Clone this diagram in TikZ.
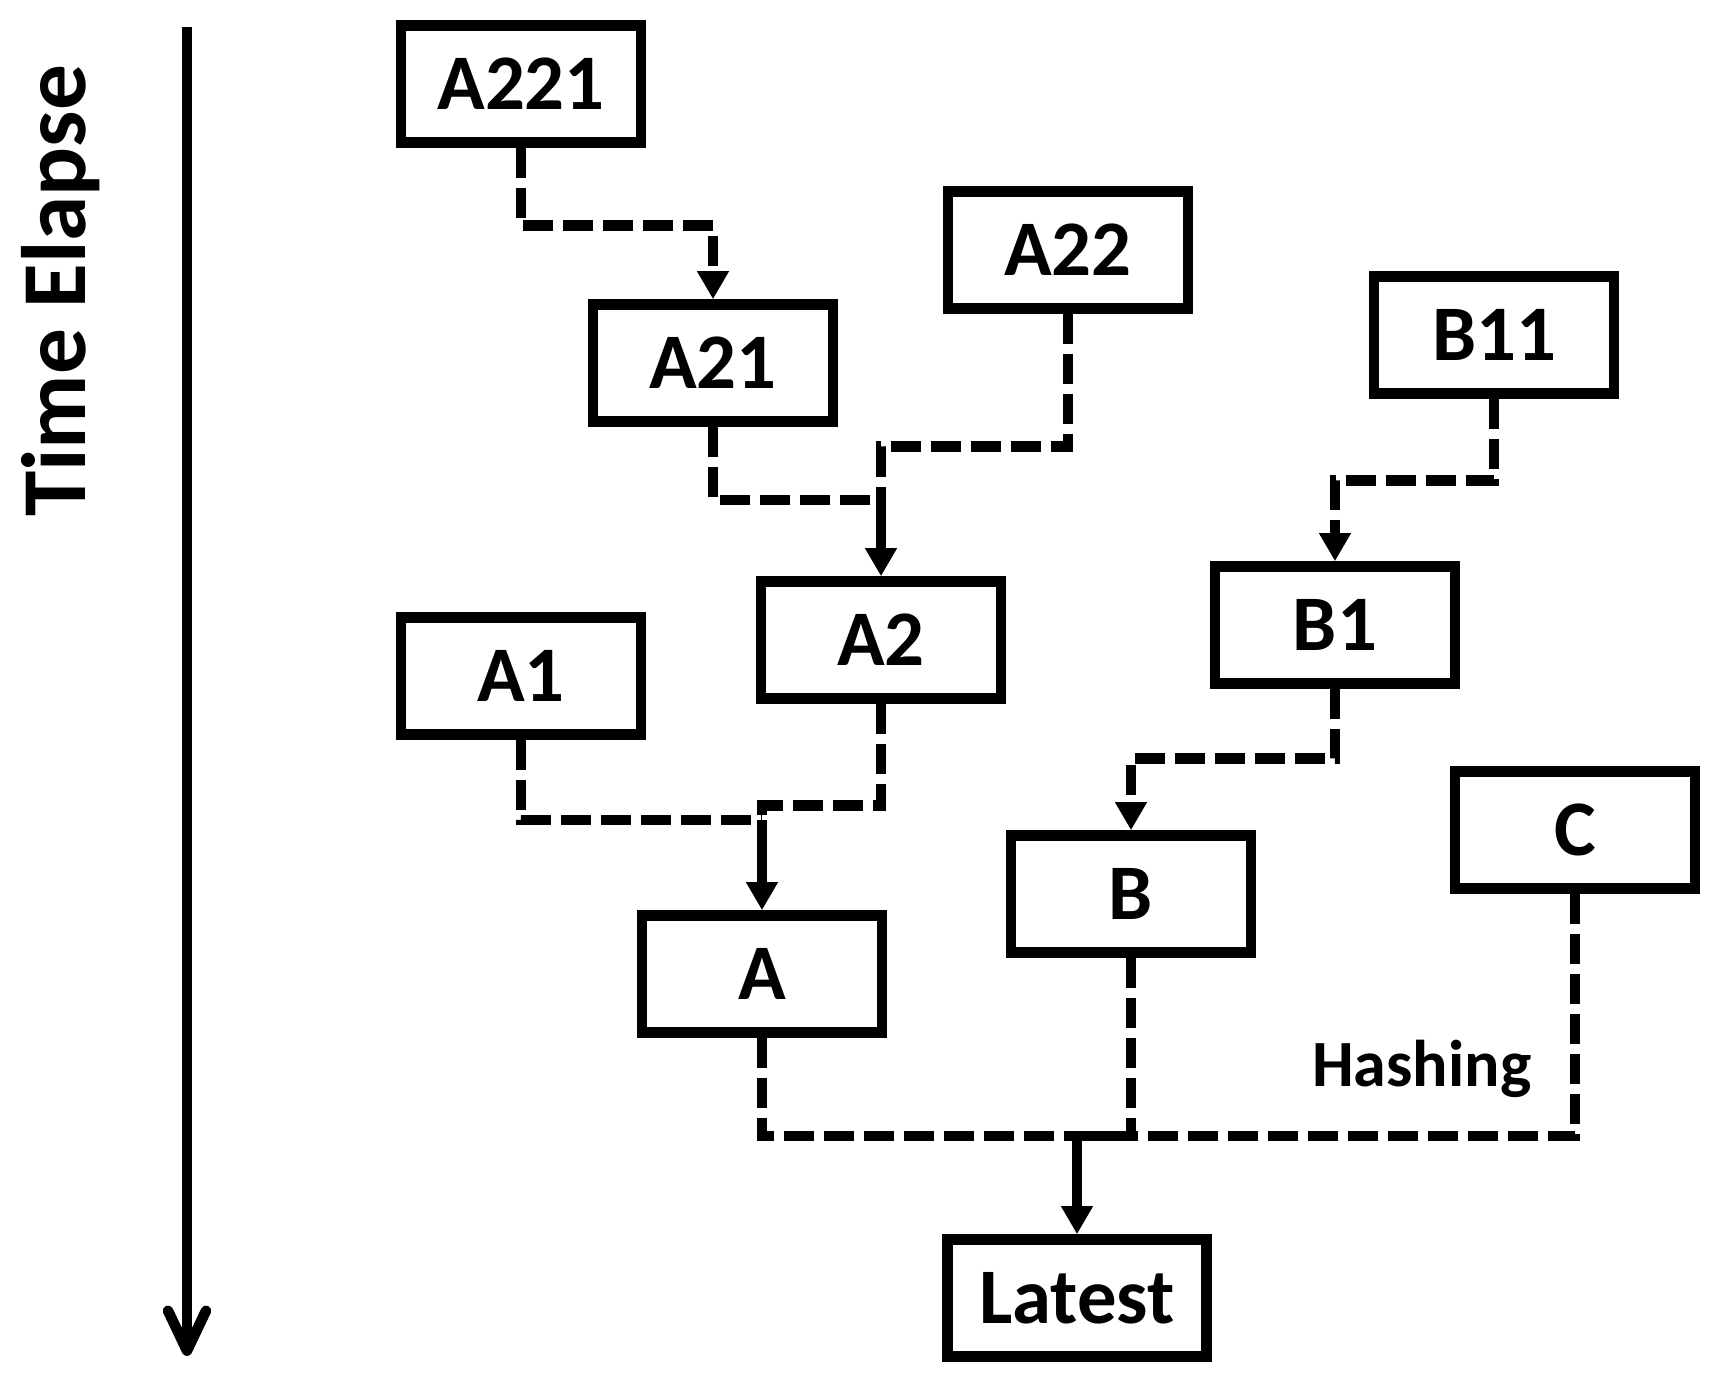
\documentclass[tikz,border=0pt]{standalone}
\usepackage{fontspec}
\setmainfont{Carlito}
\usetikzlibrary{positioning, arrows.meta}

\begin{document}
\begin{tikzpicture}[
    node distance=2cm and 2cm, on grid,
    box/.style={draw, line width=1.05mm, minimum width=2.4cm, minimum height=1.17cm,
                inner sep=0pt, font=\fontsize{22.4}{26}\selectfont\bfseries},
    dashline/.style={line width=1.05mm, dash pattern=on 3mm off 1mm},
    arrow/.style={-{Triangle[width=3mm, length=2.8mm]}},
    joinline/.style={line width=1.05mm, arrow},
    textstyle/.style={font=\fontsize{18.8}{22}\selectfont\bfseries, inner sep=0pt}
]
    \useasboundingbox (0,0) rectangle (17.22,-13.81);

    % Time axis
    \coordinate (tstart) at (1.87,-0.27);
    \coordinate (tend) at (1.87,-13.56);
    \draw[line width=1.05mm, -{Straight Barb[length=4mm, width=3.8mm, round]}] (tstart) -- (tend);
    \node[rotate=90, anchor=base, inner sep=0pt, font=\fontsize{26}{30}\selectfont\bfseries] (elapse) at (0.86,-2.91) {Time Elapse};

    % Branch A
    \node[box] (a221) at (5.21,-0.84) {A221};
    \node[box, below right=2.79cm and 1.92cm of a221] (a21) {A21};
    \node[box, above right=1.13cm and 3.55cm of a21] (a22) {A22};
    \node[box, below right=2.77cm and 1.68cm of a21] (a2) {A2};
    \node[box, below=5.92cm of a221] (a1) {A1};
    \node[box, below right=2.98cm and 2.41cm of a1] (a) {A};

    % Branch B and C
    \node[box, below right=0.85cm and 4.26cm of a22] (b11) {B11};
    \node[box, below left=2.90cm and 1.59cm of b11] (b1) {B1};
    \node[box, below left=2.69cm and 2.04cm of b1] (b) {B};
    \node[box, above right=0.64cm and 4.44cm of b] (c) {C};

    \node[box, minimum width=2.59cm, below right=3.24cm and 3.15cm of a] (latest) {Latest};

    % Join points
    \coordinate[above=0.76cm of a2.north] (join2);
    \coordinate[above=0.9cm of a.north] (joinA);
    \coordinate[above=0.98cm of latest.north] (joinL);

    % Connectors
    \draw[dashline, arrow] (a221.south) -- ++(0,-0.78) -| (a21.north);
    \draw[dashline] (a21.south) |- (join2);
    \draw[dashline] (a22.south) -- ++(0,-1.33) -| (join2);
    \draw[joinline] (join2) -- (a2.north);

    \draw[dashline] (a1.south) |- (joinA);
    \draw[dashline] (a2.south) -- ++(0,-1.02) -| (joinA);
    \draw[joinline] (joinA) -- (a.north);

    \draw[dashline, arrow] (b11.south) -- ++(0,-0.82) -| (b1.north);
    \draw[dashline, arrow] (b1.south) -- ++(0,-0.7) -| (b.north);

    \draw[dashline] (a.south) |- (joinL);
    \draw[dashline] (b.south) |- (joinL);
    \draw[dashline] (c.south) |- (joinL);
    \draw[joinline] (joinL) -- (latest.north);

    \path (c.south) ++(-0.43,-1.93) node[textstyle, anchor=base east] (hashing) {Hashing};
\end{tikzpicture}
\end{document}
